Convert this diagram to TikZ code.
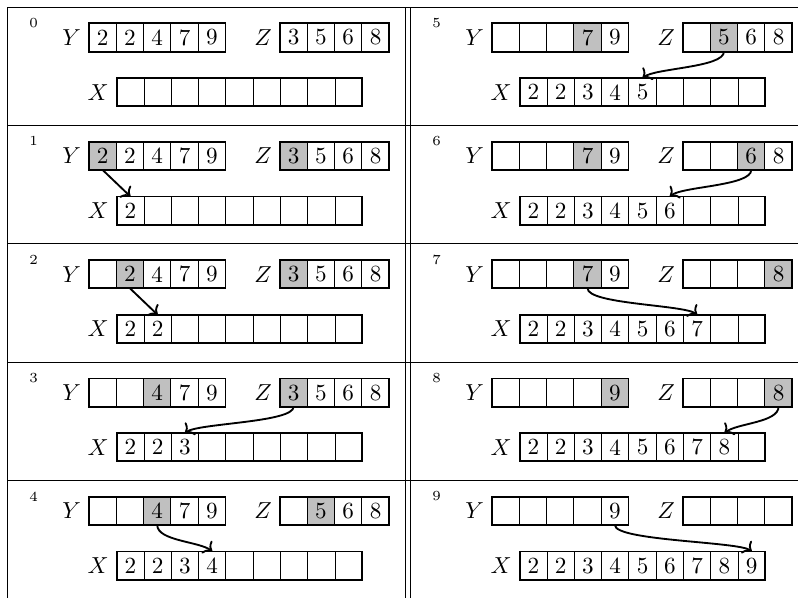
\documentclass[tikz,border=0pt]{standalone}
\usepackage{xcolor}
\usepackage{tikz}
\usetikzlibrary{arrows.meta}
\definecolor{curcol}{RGB}{192,192,192}
% one table cell: origin x, origin y, step, Y list, Z list, Y head, Z head
\newcommand\mergestep[7]{%
  \node[stepno] (s#3n) at ({#1+26.5},{#2+16}) {#3};
  \foreach \v [count=\i] in {#4} {
    \ifnum\i=#6 \def\cf{curcol}\else\def\cf{white}\fi
    \node[cell, fill=\cf] (s#3y\i) at ({#1+95.65+(\i-1)*27.3},{#2+30.5}) {\v};
  }
  \draw[arrbox] (s#3y1.north west) rectangle (s#3y5.south east);
  \node[anchor=east] (s#3ly) at (s#3y1.west) {$Y$};
  \foreach \v [count=\i] in {#5} {
    \ifnum\i=#7 \def\cf{curcol}\else\def\cf{white}\fi
    \node[cell, fill=\cf] (s#3z\i) at ({#1+286.65+(\i-1)*27.3},{#2+30.5}) {\v};
  }
  \draw[arrbox] (s#3z1.north west) rectangle (s#3z4.south east);
  \node[anchor=east] (s#3lz) at (s#3z1.west) {$Z$};
  \foreach \v [count=\i] in {2,2,3,4,5,6,7,8,9} {
    \ifnum\i>#3 \def\xv{}\else\let\xv\v\fi
    \node[cell] (s#3x\i) at ({#1+123.35+(\i-1)*27.3},{#2+85.2}) {\xv};
  }
  \draw[arrbox] (s#3x1.north west) rectangle (s#3x9.south east);
  \node[anchor=east] (s#3lx) at (s#3x1.west) {$X$};
}

\begin{document}
\begin{tikzpicture}[
   x=0.4323pt, y=-0.4323pt,
   cell/.style={draw, line width=0.4pt, minimum width=11.8pt, minimum height=12.2pt,
                inner sep=0pt, outer sep=0pt},
   arrbox/.style={line width=0.8pt},
   stepno/.style={font=\fontsize{6}{7}\selectfont, inner sep=0pt},
   rule/.style={line width=0.4pt},
   mv/.style={->, thick},
]
\useasboundingbox (0,0) rectangle (798,597);
\clip (0,0) rectangle (798,597);
% table rules
\foreach \r in {0,...,4}
  \draw[rule] (7,{7+118.35*\r}) -- (830,{7+118.35*\r});
\draw[rule] (7,7) -- (7,620);
\draw[rule] (405.7,7) -- (405.7,620);
\draw[rule] (410,7) -- (410,620);
% left column
\mergestep{7}{7}{0}{2,2,4,7,9}{3,5,6,8}{0}{0}
\mergestep{7}{125.35}{1}{2,2,4,7,9}{3,5,6,8}{1}{1}
\mergestep{7}{243.7}{2}{{},2,4,7,9}{3,5,6,8}{2}{1}
\mergestep{7}{362.05}{3}{{},{},4,7,9}{3,5,6,8}{3}{1}
\mergestep{7}{480.4}{4}{{},{},4,7,9}{{},5,6,8}{3}{2}
% right column
\mergestep{410}{7}{5}{{},{},{},7,9}{{},5,6,8}{4}{2}
\mergestep{410}{125.35}{6}{{},{},{},7,9}{{},{},6,8}{4}{3}
\mergestep{410}{243.7}{7}{{},{},{},7,9}{{},{},{},8}{4}{4}
\mergestep{410}{362.05}{8}{{},{},{},{},9}{{},{},{},8}{5}{4}
\mergestep{410}{480.4}{9}{{},{},{},{},9}{{},{},{},{}}{0}{0}
% moves
\draw[mv] (s1y1.south) -- (s1x1.north);
\draw[mv] (s2y2.south) -- (s2x2.north);
\draw[mv] (s3z1.south) .. controls +(0,16) and +(12,-10) .. (s3x3.north);
\draw[mv] (s4y3.south) .. controls +(0,16) and +(-12,-10) .. (s4x4.north);
\draw[mv] (s5z2.south) .. controls +(0,16) and +(12,-10) .. (s5x5.north);
\draw[mv] (s6z3.south) .. controls +(0,16) and +(12,-10) .. (s6x6.north);
\draw[mv] (s7y4.south) .. controls +(0,16) and +(-12,-10) .. (s7x7.north);
\draw[mv] (s8z4.south) .. controls +(0,16) and +(12,-10) .. (s8x8.north);
\draw[mv] (s9y5.south) .. controls +(0,16) and +(-12,-10) .. (s9x9.north);
\end{tikzpicture}
\end{document}
